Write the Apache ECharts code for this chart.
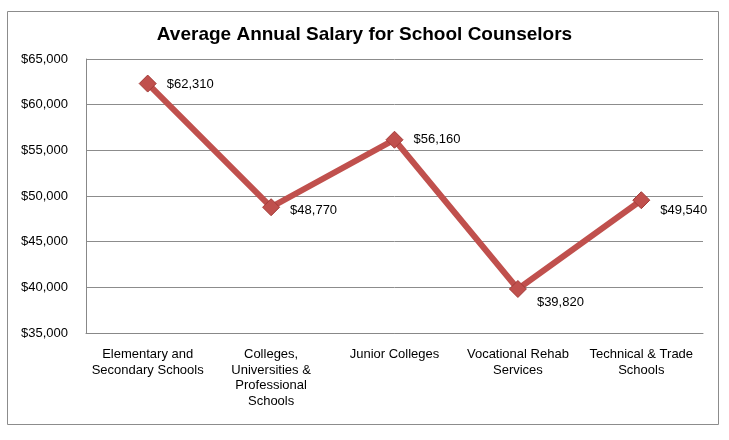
<!DOCTYPE html>
<html><head><meta charset="utf-8">
<script src="https://cdn.jsdelivr.net/npm/echarts@6/dist/echarts.min.js"></script>
<style>html,body{margin:0;padding:0;background:#fff}#c{width:729px;height:440px}</style>
</head><body><div id="c"></div>
<script>
const categories = ["Elementary and\nSecondary Schools", "Colleges,\nUniversities &\nProfessional\nSchools", "Junior Colleges", "Vocational Rehab\nServices", "Technical & Trade\nSchools"];
const salaries = [62310, 48770, 56160, 39820, 49540];
const yMin = 35000, yMax = 65000, yStep = 5000;
const titleText = "Average Annual Salary for School Counselors";
// label vertical nudges (style only)
const labelNudgeY = [1, 3, 0, 13, 10];

const FONT = 'Liberation Sans, Arial, sans-serif';
const fmt = v => "$" + v.toLocaleString("en-US");
const chart = echarts.init(document.getElementById('c'));
chart.setOption({
  animation: false,
  backgroundColor: '#fff',
  textStyle: {fontFamily: FONT},
  graphic: [{type: 'rect', shape: {x: 7.5, y: 11.5, width: 711, height: 413}, style: {fill: 'none', stroke: '#8c8c8c', lineWidth: 1}, silent: true}],
  title: {text: titleText, left: 'center', top: 20, textStyle: {fontFamily: FONT, fontSize: 19, fontWeight: 'bold', color: '#000'}},
  grid: {left: 86, right: 26, top: 59, bottom: 107},
  xAxis: {type: 'category', data: categories, boundaryGap: true,
    axisLine: {show: true, lineStyle: {color: '#888'}}, axisTick: {show: false},
    axisLabel: {interval: 0, color: '#000', fontSize: 13, lineHeight: 15.5, margin: 14, fontFamily: FONT}},
  yAxis: {type: 'value', min: yMin, max: yMax, interval: yStep,
    axisLine: {show: true, lineStyle: {color: '#888'}}, axisTick: {show: false},
    splitLine: {lineStyle: {color: '#8c8c8c'}},
    axisLabel: {color: '#000', fontSize: 13, margin: 18, formatter: v => fmt(v), fontFamily: FONT}},
  series: [{type: 'line',
    data: salaries.map((v, i) => ({value: v, label: {offset: [5, labelNudgeY[i]]}})),
    symbol: 'diamond', symbolSize: 17,
    lineStyle: {color: '#c0504d', width: 6},
    itemStyle: {color: '#c0504d', borderColor: '#a33b38', borderWidth: 1},
    label: {show: true, position: 'right', formatter: p => fmt(p.value), color: '#000', fontSize: 13, fontFamily: FONT}}]
});
</script></body></html>
